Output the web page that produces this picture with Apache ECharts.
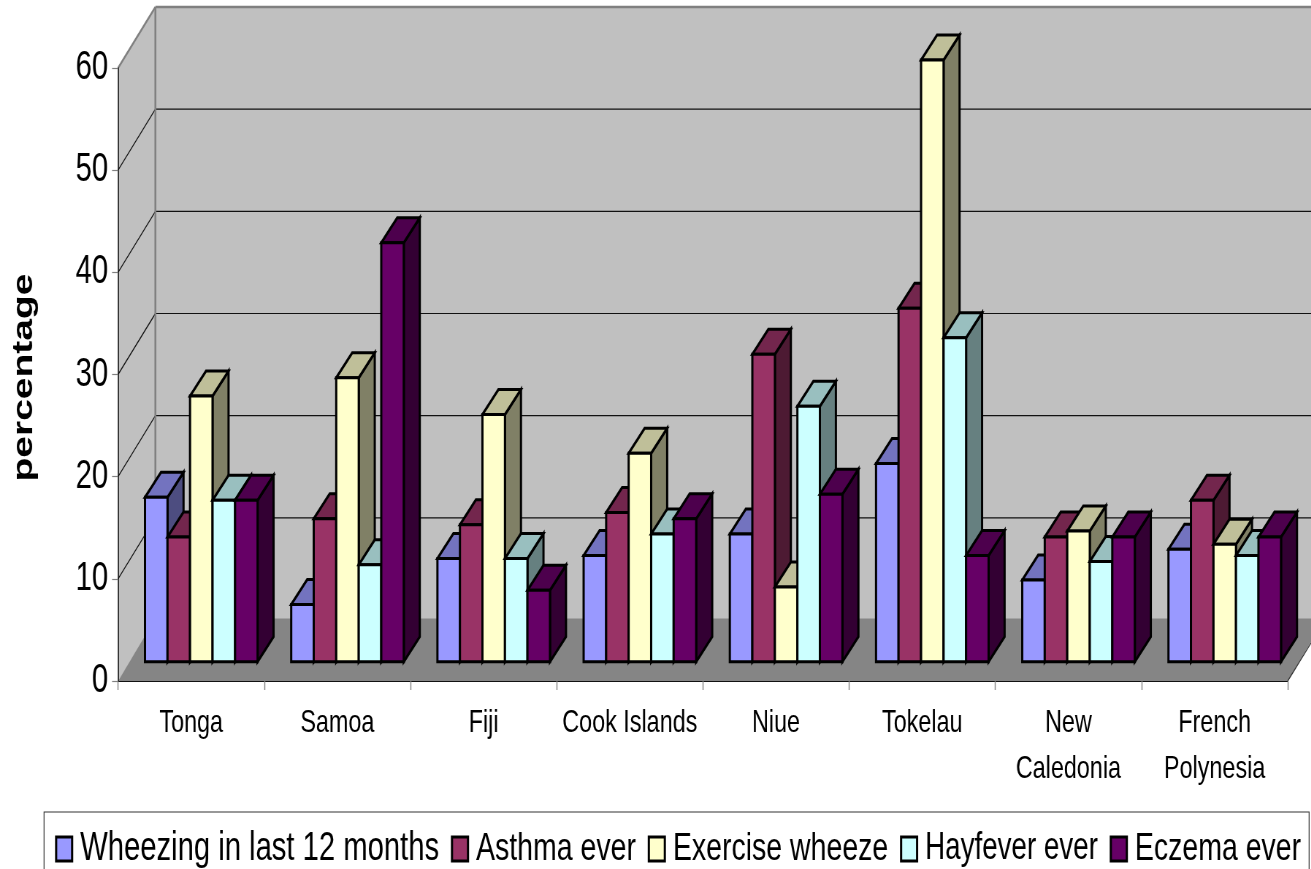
<!DOCTYPE html>
<html>
<head>
<meta charset="utf-8">
<title>Respiratory symptoms in Pacific islands</title>
<script src="https://cdn.jsdelivr.net/npm/echarts@6/dist/echarts.min.js"></script>
<style>
  html, body { margin: 0; padding: 0; width: 1311px; height: 869px; overflow: hidden; background: #fff; }
  #chart { position: absolute; left: 0; top: 0; transform-origin: 0 0; }
</style>
</head>
<body>
<div id="chart"></div>
<script>
// Survey results by island group
const categories = ['Tonga', 'Samoa', 'Fiji', 'Cook Islands', 'Niue', 'Tokelau', 'New\nCaledonia', 'French\nPolynesia'];
const wheezing = [16.1, 5.6, 10.1, 10.4, 12.5, 19.4, 8.0, 11.0];
const asthma   = [12.2, 14.0, 13.4, 14.6, 30.1, 34.6, 12.2, 15.8];
const exercise = [26.0, 27.8, 24.2, 20.4, 7.3, 58.9, 12.8, 11.5];
const hayfever = [15.8, 9.5, 10.1, 12.5, 25.0, 31.7, 9.8, 10.4];
const eczema   = [15.8, 41.0, 7.0, 14.0, 16.4, 10.4, 12.2, 12.2];
const seriesNames = ['Wheezing in last 12 months', 'Asthma ever', 'Exercise wheeze', 'Hayfever ever', 'Eczema ever'];
const seriesValues = [wheezing, asthma, exercise, hayfever, eczema];
const seriesColors = ['#9999FF', '#993366', '#FFFFCC', '#CCFFFF', '#660066'];
const valueTicks = [10, 20, 30, 40, 50, 60];
const legendFontSizes = [40, 39, 39, 38, 39];

// The page is squeezed horizontally, so layout widths are divided by this factor.
const squeeze = 0.73;
const px = v => v / squeeze;

// Pseudo-3D projection: how far the back wall and the bar plane sit from the axes.
const wallDx = px(37.3), wallDy = -61;
const planeDx = px(10.1), planeDy = -19.3;
const barW = px(22.5), depthDx = px(16), depthDy = -25;

function shade(hex, f) {
  const n = parseInt(hex.slice(1), 16);
  const c = s => Math.round(((n >> s) & 255) * f);
  return 'rgb(' + c(16) + ',' + c(8) + ',' + c(0) + ')';
}

// Walls, floor and gridlines of the chart box
function renderBox(params, api) {
  const cs = params.coordSys;
  const left = cs.x, right = cs.x + cs.width;
  const y0 = api.coord([0, 0])[1];
  const yTop = api.coord([0, valueTicks[valueTicks.length - 1]])[1];
  const floorBack = y0 + wallDy - 1.5;
  const poly = (points, fill) => ({ type: 'polygon', shape: { points }, style: { fill, stroke: null } });
  const line = (x1, y1, x2, y2, stroke, lineWidth) => ({
    type: 'line', shape: { x1, y1, x2, y2 }, style: { stroke, lineWidth }
  });
  const children = [
    poly([[left + wallDx, y0 + wallDy], [right + wallDx, y0 + wallDy], [right + wallDx, yTop + wallDy], [left + wallDx, yTop + wallDy]], '#C0C0C0'),
    poly([[left, y0], [left + wallDx, y0 + wallDy], [left + wallDx, yTop + wallDy], [left, yTop]], '#C0C0C0'),
    poly([[left, y0], [right, y0], [right + wallDx, floorBack], [left + wallDx, floorBack]], '#858585')
  ];
  valueTicks.slice(0, -1).forEach(t => {
    const y = api.coord([0, t])[1];
    children.push(line(left, y, left + wallDx, y + wallDy, '#111', 1.2));
    children.push(line(left + wallDx, y + wallDy, right + wallDx, y + wallDy, '#111', 1.2));
  });
  children.push(line(left, yTop, left + wallDx, yTop + wallDy, '#808080', 2.4));
  children.push(line(left + wallDx, yTop + wallDy, right + wallDx, yTop + wallDy, '#808080', 2.4));
  children.push(line(left + wallDx, y0 + wallDy, left + wallDx, yTop + wallDy, '#808080', 2.6));
  children.push(line(right, y0, right + wallDx, y0 + wallDy, '#333', 1.2));
  return { type: 'group', children };
}

// One bar drawn as a front face plus its top and side faces
function renderBar(seriesPos, color) {
  return function (params, api) {
    const cat = api.value(0), val = api.value(1);
    const base = api.coord([cat, 0]);
    const top = api.coord([cat, val]);
    const x0 = base[0] + planeDx + (seriesPos - 2.5) * barW;
    const x1 = x0 + barW;
    const yb = base[1] + planeDy, yt = top[1] + planeDy;
    const face = (points, fill) => ({
      type: 'polygon', shape: { points },
      style: { fill, stroke: '#000', lineWidth: 3, lineJoin: 'miter' }
    });
    return {
      type: 'group',
      children: [
        face([[x1, yb], [x1 + depthDx, yb + depthDy], [x1 + depthDx, yt + depthDy], [x1, yt]], shade(color, 0.5)),
        face([[x0, yt], [x1, yt], [x1 + depthDx, yt + depthDy], [x0 + depthDx, yt + depthDy]], shade(color, 0.75)),
        face([[x0, yb], [x1, yb], [x1, yt], [x0, yt]], color)
      ]
    };
  };
}

const chartEl = document.getElementById('chart');
const width = px(1311), height = 869;
chartEl.style.width = width + 'px';
chartEl.style.height = height + 'px';
chartEl.style.transform = 'scaleX(' + squeeze + ')';

const chart = echarts.init(chartEl, null, { renderer: 'canvas', width, height });
const fontFamily = '"Liberation Sans", Arial, sans-serif';

chart.setOption({
  animation: false,
  backgroundColor: '#fff',
  grid: {
    left: px(118), right: px(1311 - 1287), top: 68, bottom: 869 - 681,
    containLabel: false, outerBoundsMode: 'none'
  },
  legend: {
    left: px(44),
    top: 812,
    width: 4000,
    padding: [17, 11, 30, px(11)],
    itemWidth: px(16),
    itemHeight: 24,
    itemGap: px(11.8),
    borderColor: '#333',
    borderWidth: 1.2,
    backgroundColor: '#fff',
    selectedMode: false,
    data: seriesNames.map((name, i) => ({
      name,
      icon: 'rect',
      itemStyle: { color: seriesColors[i], borderColor: '#000', borderWidth: 3 },
      textStyle: { fontSize: legendFontSizes[i] }
    })),
    textStyle: { fontFamily, fontSize: 39, color: '#000', padding: [0, 0, 0, 6] }
  },
  xAxis: {
    type: 'category',
    data: categories,
    z: 3,
    axisLine: { lineStyle: { color: '#111', width: 1.2 } },
    axisTick: { show: true, length: 9, lineStyle: { color: '#808080', width: 1.4 } },
    axisLabel: { fontFamily, fontSize: 32, lineHeight: 46, color: '#000', margin: 19, interval: 0 },
    splitLine: { show: false }
  },
  yAxis: {
    type: 'value',
    min: 0,
    max: 60,
    interval: 10,
    z: 3,
    name: 'percentage',
    nameLocation: 'middle',
    nameRotate: 90,
    nameGap: 109,
    nameTextStyle: { fontFamily, fontSize: 39, fontWeight: 'bold', color: '#000', padding: [0, 6, 0, 0] },
    axisLine: { show: true, lineStyle: { color: '#111', width: 1.6 } },
    axisTick: { show: true, length: px(6), lineStyle: { color: '#808080', width: 1.2 } },
    axisLabel: { fontFamily, fontSize: 40, color: '#000', margin: px(10), padding: [4, 0, 0, 0] },
    splitLine: { show: false }
  },
  series: [
    {
      type: 'custom',
      name: 'chart box',
      z: 1,
      silent: true,
      renderItem: renderBox,
      encode: { x: 0, y: 1 },
      data: [[0, 0]]
    }
  ].concat(seriesNames.map((name, i) => ({
    type: 'custom',
    name,
    z: 4 + i,
    renderItem: renderBar(i, seriesColors[i]),
    encode: { x: 0, y: 1 },
    itemStyle: { color: seriesColors[i] },
    data: seriesValues[i].map((v, c) => [c, v])
  })))
});
</script>
</body>
</html>
